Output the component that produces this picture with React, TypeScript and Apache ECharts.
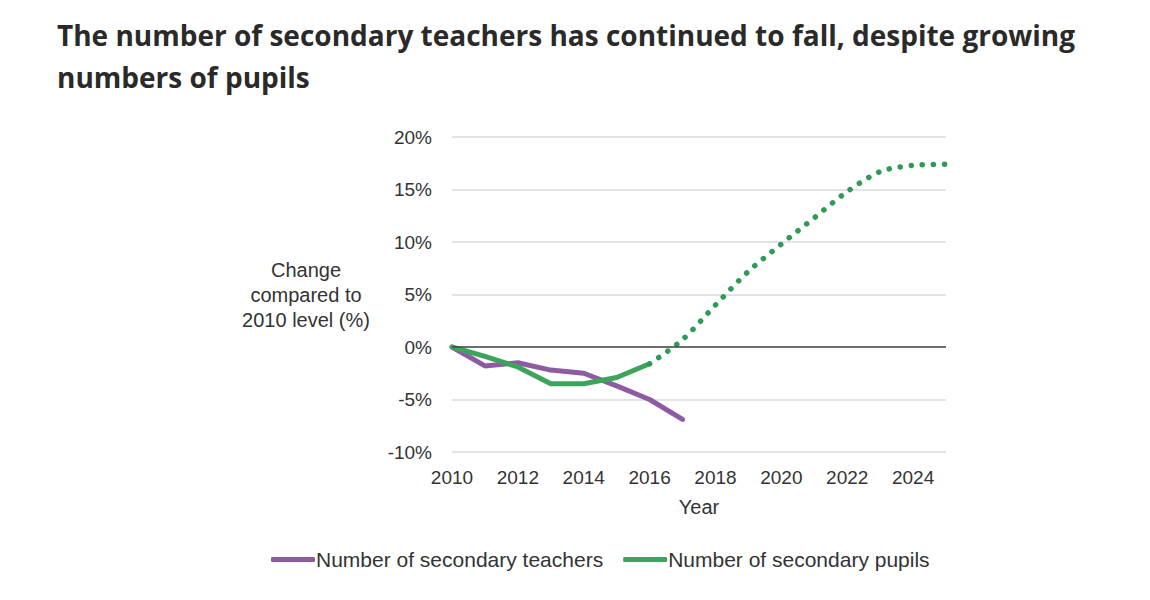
import { useEffect, useRef } from "react";
import * as echarts from "echarts";

const teacherYears = [2010, 2011, 2012, 2013, 2014, 2015, 2016, 2017];
const teacherValues = [0, -1.8, -1.5, -2.2, -2.5, -3.7, -5.0, -6.9];

const pupilYears = [2010, 2011, 2012, 2013, 2014, 2015, 2016];
const pupilValues = [0, -0.9, -1.9, -3.5, -3.5, -2.9, -1.6];

const projYears = [2016, 2017, 2018, 2019, 2020, 2021, 2022, 2023, 2024, 2025];
const projValues = [-1.6, 0.7, 4.0, 7.2, 9.8, 12.3, 14.8, 16.7, 17.3, 17.4];

const TITLE = "The number of secondary teachers has continued to fall, despite growing\nnumbers of pupils";
const TEACHERS = "Number of secondary teachers";
const PUPILS = "Number of secondary pupils";

const PURPLE = "#8e5ba3";
const GREEN = "#3da55b";
const TEXT = "#333333";
const FONT = "'Liberation Sans', Arial, sans-serif";

export default function App() {
  const chartRef = useRef<HTMLDivElement>(null);

  useEffect(() => {
    document.body.style.margin = "0";
    if (!chartRef.current) return;
    const chart = echarts.init(chartRef.current, null, { renderer: "svg" });

    const pairs = (xs: number[], ys: number[]) => xs.map((x, i) => [x, ys[i]]);

    chart.setOption({
      animation: false,
      backgroundColor: "#ffffff",
      title: {
        text: TITLE,
        left: 52,
        top: 9,
        textStyle: {
          fontFamily: "'Open Sans', sans-serif",
          fontWeight: 700,
          fontSize: 28,
          lineHeight: 42,
          color: "#2a2a2a"
        }
      },
      grid: { left: 452, right: 204, top: 137, bottom: 148, containLabel: false },
      legend: {
        data: [TEACHERS, PUPILS],
        left: 266,
        top: 544,
        icon: "roundRect",
        itemWidth: 44,
        itemHeight: 5,
        itemGap: 20,
        textStyle: { fontFamily: FONT, fontSize: 21, color: TEXT, padding: [0, 0, 0, -4] }
      },
      xAxis: {
        type: "value",
        min: 2010,
        max: 2025,
        interval: 2,
        name: "Year",
        nameLocation: "middle",
        nameGap: 45,
        nameTextStyle: { fontFamily: FONT, fontSize: 20, color: TEXT },
        axisLine: { show: false },
        axisTick: { show: false },
        splitLine: { show: false },
        axisLabel: {
          fontFamily: FONT,
          fontSize: 19,
          color: TEXT,
          margin: 16,
          showMaxLabel: false,
          formatter: (v: number) => (v > 2024 ? "" : String(v))
        }
      },
      yAxis: {
        type: "value",
        min: -10,
        max: 20,
        interval: 5,
        name: "Change\ncompared to\n2010 level (%)",
        nameLocation: "middle",
        nameRotate: 0,
        nameGap: 146,
        nameTextStyle: { fontFamily: FONT, fontSize: 20, color: TEXT, lineHeight: 25, align: "center" },
        axisLine: { show: false },
        axisTick: { show: false },
        splitLine: { lineStyle: { color: "#e4e4e4", width: 2 } },
        axisLabel: {
          fontFamily: FONT,
          fontSize: 19,
          color: TEXT,
          margin: 20,
          formatter: (v: number) => v + "%"
        }
      },
      series: [
        {
          name: "zero",
          type: "line",
          data: [],
          silent: true,
          markLine: {
            symbol: "none",
            silent: true,
            label: { show: false },
            lineStyle: { color: "#444444", width: 1.5, type: "solid" },
            data: [{ yAxis: 0 }]
          }
        },
        {
          name: PUPILS,
          type: "line",
          data: pairs(pupilYears, pupilValues),
          symbol: "none",
          color: GREEN,
          lineStyle: { color: GREEN, width: 5, cap: "round", join: "round" }
        },
        {
          name: "projection",
          type: "line",
          data: pairs(projYears, projValues),
          symbol: "none",
          smooth: 0.3,
          color: GREEN,
          lineStyle: { color: "#2f9a55", width: 5.5, type: [0.1, 11], cap: "round" }
        },
        {
          name: TEACHERS,
          type: "line",
          data: pairs(teacherYears, teacherValues),
          symbol: "none",
          color: PURPLE,
          z: 1,
          lineStyle: { color: PURPLE, width: 5, cap: "round", join: "round" }
        }
      ]
    });

    return () => {
      chart.dispose();
    };
  }, []);

  return <div ref={chartRef} style={{ width: "1150px", height: "600px" }} />;
}
